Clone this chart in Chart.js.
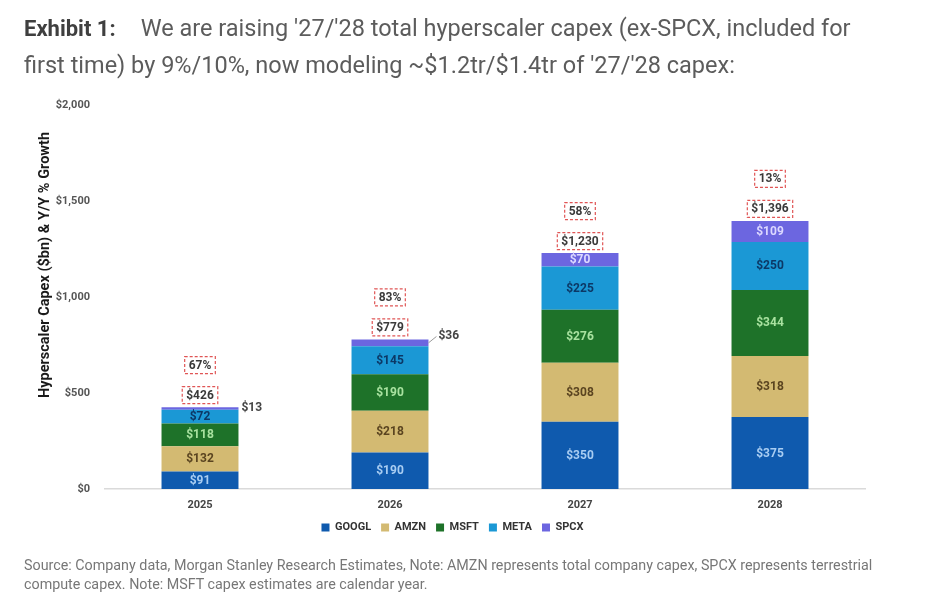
<!DOCTYPE html>
<html>
<head>
<meta charset="utf-8">
<title>Hyperscaler capex</title>
<script src="https://cdn.jsdelivr.net/npm/chart.js@4.4.1/dist/chart.umd.min.js"></script>
<style>
  html, body { margin: 0; padding: 0; background: #fff; }
  body { width: 939px; height: 599px; position: relative; overflow: hidden; font-family: Roboto, 'Noto Sans', sans-serif; }
  #wrap { position: absolute; left: 0; top: 0; width: 939px; height: 599px; }
  .title { position: absolute; left: 24px; top: 10px; font-size: 23.5px; line-height: 36px; color: #5c5c5c; white-space: nowrap; }
  .title b { color: #3f3f3f; font-size: 22px; margin-right: 25px; }
  .source { position: absolute; left: 24px; top: 556px; font-size: 14.3px; line-height: 19px; color: #777; white-space: nowrap; }
</style>
</head>
<body>
<div id="wrap"><canvas id="capexChart" width="939" height="599"></canvas></div>
<div class="title"><b>Exhibit 1:</b>We are raising '27/'28 total hyperscaler capex (ex-SPCX, included for<br>first time) by 9%/10%, now modeling ~$1.2tr/$1.4tr of '27/'28 capex:</div>
<div class="source">Source: Company data, Morgan Stanley Research Estimates, Note: AMZN represents total company capex, SPCX represents terrestrial<br>compute capex. Note: MSFT capex estimates are calendar year.</div>
<script>
const years = ['2025', '2026', '2027', '2028'];
const googl = [91, 190, 350, 375];
const amzn = [132, 218, 308, 318];
const msft = [118, 190, 276, 344];
const meta = [72, 145, 225, 250];
const spcx = [13, 36, 70, 109];
const totals = [426, 779, 1230, 1396];
const growth = ['67%', '83%', '58%', '13%'];
const yTicks = [0, 500, 1000, 1500, 2000];

const FONT = 'Roboto, "Noto Sans", sans-serif';
const money = (v) => '$' + v.toLocaleString('en-US');

// fill colour and in-bar label colour per series
const seriesStyle = [
  { label: 'GOOGL', data: googl, color: '#0f5aae', text: '#a9cdf2' },
  { label: 'AMZN', data: amzn, color: '#d3ba72', text: '#5a4420' },
  { label: 'MSFT', data: msft, color: '#1e7229', text: '#a9e2a0' },
  { label: 'META', data: meta, color: '#1b98d5', text: '#0c3866' },
  { label: 'SPCX', data: spcx, color: '#6c66e0', text: '#dcd8ff' },
];

// small SPCX segments get their label outside the bar
const calloutGap = [3, 10];

const barLabels = {
  id: 'barLabels',
  afterDatasetsDraw(chart) {
    const { ctx } = chart;
    ctx.save();
    ctx.font = `bold 12px ${FONT}`;
    ctx.textBaseline = 'middle';

    chart.data.datasets.forEach((ds, i) => {
      const metaInfo = chart.getDatasetMeta(i);
      metaInfo.data.forEach((bar, j) => {
        const top = Math.min(bar.y, bar.base);
        const h = Math.abs(bar.base - bar.y);
        const text = money(ds.data[j]);
        if (h >= 12) {
          ctx.fillStyle = seriesStyle[i].text;
          ctx.textAlign = 'center';
          ctx.fillText(text, bar.x, top + h / 2 + 0.5);
        } else {
          const gap = calloutGap[j] ?? 4;
          const edge = bar.x + bar.width / 2;
          const ly = top - (gap > 4 ? 3 : -1);
          if (gap > 4) {
            ctx.strokeStyle = '#9a9a9a';
            ctx.lineWidth = 1;
            ctx.beginPath();
            ctx.moveTo(edge, top + h / 2);
            ctx.lineTo(edge + gap - 2, ly);
            ctx.stroke();
          }
          ctx.fillStyle = '#444';
          ctx.textAlign = 'left';
          ctx.fillText(text, edge + gap, ly);
        }
      });
    });

    // dashed boxes with totals and growth
    const last = chart.getDatasetMeta(chart.data.datasets.length - 1);
    ctx.textAlign = 'center';
    ctx.font = `bold 12px ${FONT}`;
    last.data.forEach((bar, j) => {
      const top = bar.y;
      [[money(totals[j]), top - 12], [growth[j], top - 42]].forEach(([t, cy]) => {
        const w = ctx.measureText(t).width + 8;
        const bh = 17;
        ctx.setLineDash([3, 2]);
        ctx.strokeStyle = '#e05555';
        ctx.lineWidth = 1.2;
        ctx.strokeRect(bar.x - w / 2, cy - bh / 2, w, bh);
        ctx.setLineDash([]);
        ctx.fillStyle = '#3a3a3a';
        ctx.fillText(t, bar.x, cy + 0.5);
      });
    });

    // y axis title
    ctx.translate(45, 265);
    ctx.rotate(-Math.PI / 2);
    ctx.font = `bold 14.5px ${FONT}`;
    ctx.fillStyle = '#1a1a1a';
    ctx.fillText('Hyperscaler Capex ($bn) & Y/Y % Growth', 0, 0);
    ctx.restore();
  },
};

const chartCanvas = document.getElementById('capexChart');

new Chart(chartCanvas, {
  type: 'bar',
  data: {
    labels: years,
    datasets: seriesStyle.map((s) => ({
      label: s.label,
      data: s.data,
      backgroundColor: s.color,
      borderWidth: 0,
      categoryPercentage: 1,
      barPercentage: 0.405,
    })),
  },
  options: {
    responsive: false,
    animation: false,
    layout: { padding: { top: 105, left: 40, right: 74, bottom: 56 } },
    plugins: {
      tooltip: { enabled: false },
      legend: {
        position: 'bottom',
        labels: {
          boxWidth: 8,
          boxHeight: 8,
          padding: 10,
          color: '#333',
          font: { family: FONT, size: 11, weight: 'bold' },
        },
      },
    },
    scales: {
      x: {
        stacked: true,
        grid: { display: false, drawTicks: false },
        border: { display: true, color: '#dadada', width: 1.5 },
        ticks: { color: '#444', padding: 10, font: { family: FONT, size: 11, weight: 'bold' } },
        afterFit(scale) { scale.height = 23; },
      },
      y: {
        stacked: true,
        min: yTicks[0],
        max: yTicks[yTicks.length - 1],
        grid: { display: false, drawTicks: false },
        border: { display: false },
        afterBuildTicks(scale) { scale.ticks = yTicks.map((v) => ({ value: v })); },
        ticks: {
          color: '#555',
          padding: 15,
          font: { family: FONT, size: 11, weight: 'bold' },
          callback: (v) => money(v),
        },
        afterFit(scale) { scale.width = 65; },
      },
    },
  },
  plugins: [barLabels],
});
</script>
</body>
</html>
